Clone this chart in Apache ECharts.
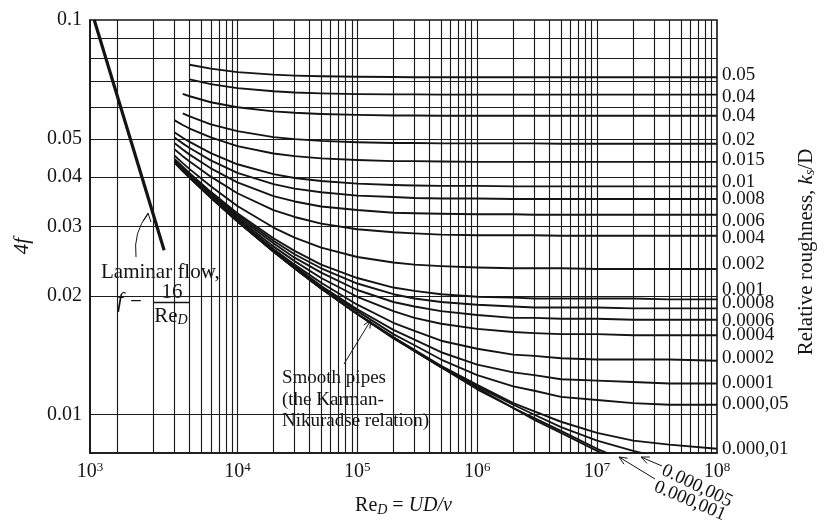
<!DOCTYPE html>
<html><head><meta charset="utf-8">
<script src="https://cdn.jsdelivr.net/npm/echarts@6/dist/echarts.min.js"></script>
<style>html,body{margin:0;padding:0;background:#fff}#c{width:828px;height:522px}</style>
</head><body><div id="c"></div>
<script>
// ---------------- data ----------------
const reynolds = [3000, 3500, 4000, 6000, 1e4, 2e4, 3e4, 5e4, 1e5, 2e5, 3e5, 5e5, 1e6, 2e6, 3e6, 5e6, 1e7, 2e7, 4e7, 1e8];

const r050    = [null,null,.0770,.0753,.0738,.0727,.0723,.0720,.0718,.0717,.0716,.0716,.0716,.0716,.0716,.0716,.0716,.0716,.0716,.0716];
const r040    = [null,null,.0707,.0688,.0672,.0660,.0655,.0652,.0649,.0648,.0648,.0647,.0647,.0647,.0647,.0647,.0647,.0647,.0647,.0647];
const r030    = [null,.0650,.0641,.0619,.0601,.0587,.0582,.0578,.0575,.0573,.0573,.0572,.0572,.0572,.0572,.0572,.0572,.0572,.0572,.0572];
const r020    = [null,.0580,.0570,.0544,.0523,.0505,.0499,.0494,.0490,.0488,.0488,.0487,.0487,.0487,.0487,.0486,.0486,.0486,.0486,.0486];
const r015    = [.0557,.0542,.0531,.0504,.0479,.0459,.0452,.0446,.0442,.0439,.0439,.0438,.0437,.0437,.0437,.0437,.0437,.0437,.0437,.0437];
const r010    = [.0519,.0503,.0491,.0460,.0431,.0407,.0398,.0391,.0385,.0382,.0381,.0380,.0380,.0379,.0379,.0379,.0379,.0379,.0379,.0379];
const r008    = [.0503,.0487,.0474,.0441,.0410,.0384,.0374,.0366,.0359,.0356,.0354,.0353,.0353,.0352,.0352,.0352,.0352,.0352,.0352,.0352];
const r006    = [.0487,.0470,.0456,.0421,.0388,.0358,.0347,.0337,.0330,.0325,.0324,.0323,.0322,.0322,.0321,.0321,.0321,.0321,.0321,.0321];
const r004    = [.0470,.0452,.0438,.0401,.0364,.0330,.0317,.0305,.0295,.0290,.0288,.0286,.0285,.0285,.0285,.0284,.0284,.0284,.0284,.0284];
const r002    = [.0453,.0434,.0419,.0379,.0338,.0298,.0281,.0265,.0251,.0243,.0240,.0238,.0236,.0235,.0235,.0235,.0234,.0234,.0234,.0234];
const r001    = [.0444,.0425,.0409,.0367,.0324,.0280,.0260,.0240,.0222,.0210,.0206,.0202,.0199,.0198,.0197,.0197,.0197,.0197,.0196,.0196];
const r0008   = [.0443,.0423,.0407,.0365,.0321,.0276,.0255,.0235,.0215,.0202,.0197,.0193,.0190,.0188,.0187,.0187,.0187,.0186,.0186,.0186];
const r0006   = [.0441,.0421,.0405,.0363,.0318,.0272,.0250,.0229,.0207,.0193,.0188,.0183,.0179,.0176,.0176,.0175,.0175,.0174,.0174,.0174];
const r0004   = [.0439,.0419,.0403,.0360,.0315,.0267,.0245,.0222,.0199,.0183,.0176,.0170,.0165,.0162,.0161,.0160,.0160,.0159,.0159,.0159];
const r0002   = [.0437,.0417,.0401,.0358,.0312,.0263,.0240,.0216,.0190,.0171,.0163,.0154,.0147,.0142,.0141,.0139,.0138,.0138,.0138,.0137];
const r0001   = [.0436,.0416,.0400,.0356,.0311,.0261,.0238,.0212,.0185,.0164,.0155,.0144,.0134,.0128,.0126,.0123,.0122,.0121,.0120,.0120];
const r00005  = [.0436,.0416,.0400,.0356,.0310,.0260,.0236,.0211,.0183,.0160,.0150,.0138,.0126,.0118,.0115,.0111,.0109,.0107,.0106,.0106];
const r00001  = [.0435,.0415,.0399,.0355,.0309,.0259,.0235,.0209,.0180,.0157,.0146,.0133,.0119,.0107,.0102,.0096,.0090,.0086,.0084,.0082];
const r000005 = [.0435,.0415,.0399,.0355,.0309,.0259,.0235,.0209,.0180,.0157,.0145,.0132,.0118,.0106,.0100,.0093,.0086,.0081,.0077,.0075];
const r000001 = [.0435,.0415,.0399,.0355,.0309,.0259,.0235,.0209,.0180,.0157,.0145,.0132,.0117,.0104,.0098,.0091,.0082,.0075,.0070,.0064];
const smoothPipe = [.0435,.0415,.0399,.0355,.0309,.0259,.0235,.0209,.0180,.0156,.0145,.0132,.0116,.0104,.0097,.0090,.0081,.0073,.0066,.0059];

const laminarRe = [640, 2450];
const laminarF  = [0.1, 0.0261];

const rightLabels = ['0.05','0.04','0.04','0.02','0.015','0.01','0.008','0.006','0.004','0.002',
                     '0.001','0.0008','0.0006','0.0004','0.0002','0.0001','0.000,05','0.000,01'];
const bottomLabels = ['0.000,005', '0.000,001'];

const xTickValues = [590, 1e4, 1e5, 1e6, 1e7, 1e8];
const xTickExp    = ['3', '4', '5', '6', '7', '8'];
const yTickValues = [0.01, 0.02, 0.03, 0.04, 0.05, 0.1];
const yTickLabels = ['0.01', '0.02', '0.03', '0.04', '0.05', '0.1'];

const gridMantissa = [1, 2, 3, 4, 5, 6, 7, 8, 9];
const gridDecades  = [1e3, 1e4, 1e5, 1e6, 1e7];
const gridF = [0.01, 0.02, 0.03, 0.04, 0.05, 0.06, 0.07, 0.08, 0.09];

// ---------------- styling / building ----------------
const serif = "'Liberation Serif', 'DejaVu Serif', serif";
const ink = '#141414';
const roughCurves = [r050, r040, r030, r020, r015, r010, r008, r006, r004, r002, r001,
                     r0008, r0006, r0004, r0002, r0001, r00005, r00001];
const labelShift = [-2, 2, 0, -4, -2, -4, 0, 6, 2, -5, -9, -5, 1, 0, -3, 0, -1, 0];

function nearest(v, arr) {
  let best = 0, bd = Infinity;
  arr.forEach((a, i) => { const d = Math.abs(Math.log10(v) - Math.log10(a)); if (d < bd) { bd = d; best = i; } });
  return best;
}
function curveSeries(name, vals, width) {
  const data = [];
  reynolds.forEach((r, i) => { if (vals[i] != null) data.push([r, vals[i]]); });
  return {
    type: 'line', name: name, data: data, z: 5, silent: true,
    showSymbol: false, symbol: 'none', smooth: false,
    lineStyle: { color: ink, width: width || 1.9, join: 'round' }, clip: true
  };
}

const gridLineData = [];
gridDecades.forEach(d => gridMantissa.forEach(m => gridLineData.push({ xAxis: m * d })));
gridF.forEach(f => gridLineData.push({ yAxis: f }));

const series = [
  { type: 'line', data: [], z: 1, silent: true,
    markLine: { symbol: ['none', 'none'], silent: true, animation: false, label: { show: false },
      emphasis: { disabled: true },
      lineStyle: { color: '#1c1c1c', width: 1.15, type: 'solid' }, data: gridLineData } }
];
roughCurves.forEach((v, i) => series.push(curveSeries('e' + i, v)));
series.push(curveSeries('e5e-6', r000005));
series.push(curveSeries('e1e-6', r000001));
series.push(curveSeries('smooth', smoothPipe));
series.push({ type: 'line', name: 'laminar', z: 5, silent: true, showSymbol: false, symbol: 'none',
  data: laminarRe.map((r, i) => [r, laminarF[i]]), lineStyle: { color: ink, width: 3.2 } });

const chart = echarts.init(document.getElementById('c'), null, { renderer: 'canvas' });
chart.setOption({
  animation: false,
  backgroundColor: '#fff',
  grid: { left: 90, top: 20, width: 627, height: 435, show: true, borderColor: ink, borderWidth: 1.6 },
  xAxis: {
    type: 'log', logBase: 10, min: 590, max: 1e8,
    axisLine: { show: true, lineStyle: { color: ink, width: 1.6 } },
    axisTick: { show: false }, splitLine: { show: false },
    axisLabel: {
      customValues: xTickValues, margin: 8,
      formatter: v => '{b|10}{s|' + xTickExp[nearest(v, xTickValues)] + '}',
      rich: {
        b: { fontSize: 20, fontFamily: serif, color: ink },
        s: { fontSize: 13, fontFamily: serif, color: ink, padding: [0, 0, 9, 0] }
      }
    },
    name: '{r|Re}{d|D}{n| = }{i|UD/ν}', nameLocation: 'middle', nameGap: 41,
    nameTextStyle: { rich: {
      r: { fontSize: 20, fontFamily: serif, color: ink },
      d: { fontSize: 14, fontFamily: serif, fontStyle: 'italic', color: ink, padding: [9, 0, 0, 0] },
      n: { fontSize: 20, fontFamily: serif, color: ink },
      i: { fontSize: 20, fontFamily: serif, fontStyle: 'italic', color: ink }
    } }
  },
  yAxis: {
    type: 'log', logBase: 10, min: 0.008, max: 0.1,
    axisLine: { show: true, lineStyle: { color: ink, width: 1.6 } },
    axisTick: { show: false }, splitLine: { show: false },
    axisLabel: {
      customValues: yTickValues, margin: 8, fontSize: 20, fontFamily: serif, color: ink,
      formatter: v => yTickLabels[nearest(v, yTickValues)]
    }
  },
  series: series
});

// annotations
const F = 21;
const gfx = [
  { type: 'rect', z: 3, silent: true, shape: { x: 99, y: 259, width: 129, height: 26 }, style: { fill: '#fff' } },
  { type: 'rect', z: 3, silent: true, shape: { x: 112, y: 284, width: 116, height: 49 }, style: { fill: '#fff' } },
  { type: 'text', z: 4, silent: true, x: 101, y: 272, style: { text: 'Laminar flow,', fontSize: F, fontFamily: serif, fill: ink, verticalAlign: 'middle' } },
  { type: 'text', z: 4, silent: true, x: 117, y: 301, style: { text: 'f', fontSize: 22, fontStyle: 'italic', fontFamily: serif, fill: ink, verticalAlign: 'middle' } },
  { type: 'text', z: 4, silent: true, x: 130, y: 300, style: { text: '=', fontSize: F, fontFamily: serif, fill: ink, verticalAlign: 'middle' } },
  { type: 'text', z: 4, silent: true, x: 172, y: 292, style: { text: '16', fontSize: F, fontFamily: serif, fill: ink, align: 'center', verticalAlign: 'middle' } },
  { type: 'line', z: 4, silent: true, shape: { x1: 153, y1: 302.5, x2: 189, y2: 302.5 }, style: { stroke: ink, lineWidth: 1.3 } },
  { type: 'text', z: 4, silent: true, x: 171, y: 316, style: { text: '{r|Re}{d|D}', align: 'center', verticalAlign: 'middle',
      rich: { r: { fontSize: F, fontFamily: serif, fill: ink }, d: { fontSize: 14, fontStyle: 'italic', fontFamily: serif, fill: ink, padding: [9, 0, 0, 0] } } } },
  { type: 'bezierCurve', z: 4, silent: true, shape: { x1: 136, y1: 257, cpx1: 133, cpy1: 232, x2: 148, y2: 214 }, style: { stroke: ink, lineWidth: 1, fill: null } },
  { type: 'polyline', z: 4, silent: true, shape: { points: [[143, 221], [148, 213], [151, 222]] }, style: { stroke: ink, lineWidth: 1, fill: null } },

  { type: 'rect', z: 3, silent: true, shape: { x: 276, y: 362, width: 158, height: 69 }, style: { fill: '#fff' } },
  { type: 'text', z: 4, silent: true, x: 282, y: 378, style: { text: 'Smooth pipes', fontSize: 19, fontFamily: serif, fill: ink, verticalAlign: 'middle' } },
  { type: 'text', z: 4, silent: true, x: 282, y: 400, style: { text: '(the Karman-', fontSize: 19, fontFamily: serif, fill: ink, verticalAlign: 'middle' } },
  { type: 'text', z: 4, silent: true, x: 282, y: 421, style: { text: 'Nikuradse relation)', fontSize: 19, fontFamily: serif, fill: ink, verticalAlign: 'middle' } },
  { type: 'line', z: 4, silent: true, shape: { x1: 344, y1: 364, x2: 371, y2: 320 }, style: { stroke: ink, lineWidth: 1 } },
  { type: 'polyline', z: 4, silent: true, shape: { points: [[363.8, 325], [371, 320], [369.8, 328.6]] }, style: { stroke: ink, lineWidth: 1, fill: null } },

  { type: 'line', z: 4, silent: true, shape: { x1: 662, y1: 466, x2: 641, y2: 457 }, style: { stroke: ink, lineWidth: 1 } },
  { type: 'polyline', z: 4, silent: true, shape: { points: [[649.8, 457], [641, 457], [647, 463.4]] }, style: { stroke: ink, lineWidth: 1, fill: null } },
  { type: 'line', z: 4, silent: true, shape: { x1: 655, y1: 479, x2: 619, y2: 457 }, style: { stroke: ink, lineWidth: 1 } },
  { type: 'polyline', z: 4, silent: true, shape: { points: [[627.6, 458.2], [619, 457], [624, 464.2]] }, style: { stroke: ink, lineWidth: 1, fill: null } },
  { type: 'text', z: 4, silent: true, x: 697, y: 486, rotation: -0.45, style: { text: bottomLabels[0], fontSize: 19, fontFamily: serif, fill: ink, align: 'center', verticalAlign: 'middle' } },
  { type: 'text', z: 4, silent: true, x: 690, y: 501, rotation: -0.40, style: { text: bottomLabels[1], fontSize: 19, fontFamily: serif, fill: ink, align: 'center', verticalAlign: 'middle' } },

  { type: 'text', z: 4, silent: true, x: 22, y: 246, rotation: Math.PI / 2, style: { text: '4f', fontSize: 21, fontStyle: 'italic', fontFamily: serif, fill: ink, align: 'center', verticalAlign: 'middle' } },
  { type: 'text', z: 4, silent: true, x: 806, y: 252, rotation: Math.PI / 2, style: { text: 'Relative roughness, {i|k}{s|s}/D', fontSize: 21, fontFamily: serif, fill: ink, align: 'center', verticalAlign: 'middle',
      rich: { i: { fontSize: 21, fontStyle: 'italic', fontFamily: serif, fill: ink }, s: { fontSize: 14, fontStyle: 'italic', fontFamily: serif, fill: ink, padding: [9, 0, 0, 0] } } } }
];
roughCurves.forEach((vals, i) => {
  const p = chart.convertToPixel({ gridIndex: 0 }, [reynolds[reynolds.length - 1], vals[vals.length - 1]]);
  gfx.push({ type: 'text', z: 4, silent: true, x: p[0] + 5, y: p[1] + labelShift[i],
    style: { text: rightLabels[i], fontSize: 19, fontFamily: serif, fill: ink, verticalAlign: 'middle' } });
});
chart.setOption({ graphic: gfx });
</script>
</body></html>
